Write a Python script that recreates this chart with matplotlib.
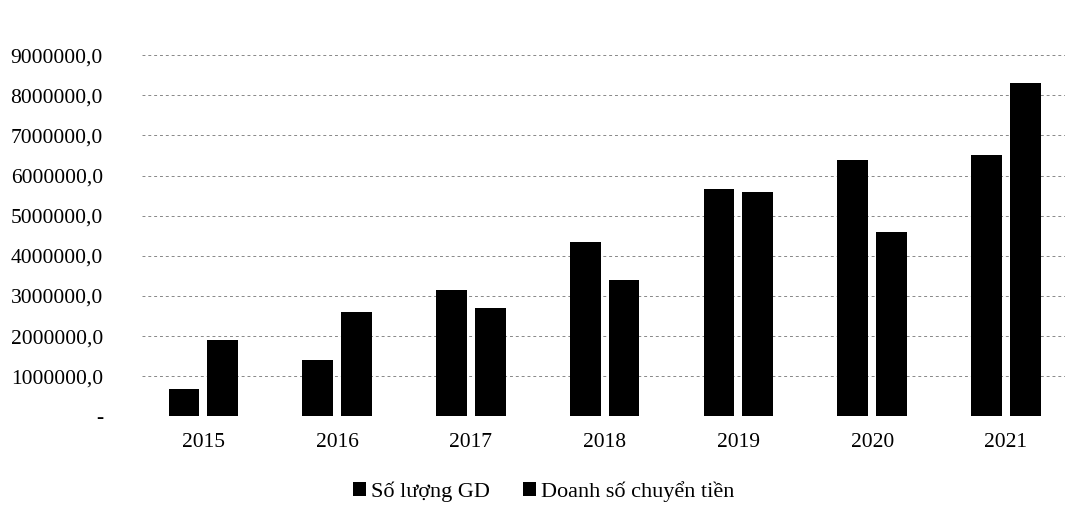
import numpy as np
import matplotlib
matplotlib.use("Agg")
import matplotlib.pyplot as plt
from matplotlib.ticker import FuncFormatter

plt.rcParams['font.family'] = ['Liberation Serif', 'DejaVu Serif']

# data
years = ['2015', '2016', '2017', '2018', '2019', '2020', '2021']
so_luong_gd = [680000, 1400000, 3150000, 4350000, 5670000, 6400000, 6500000]
doanh_so = [1900000, 2600000, 2700000, 3400000, 5600000, 4600000, 8300000]
y_ticks = np.arange(0, 10000000, 1000000)

fig = plt.figure(figsize=(10.91, 5.11), dpi=100)
ax = fig.add_axes([0.13, 0.185, 0.846, 0.77])

x = np.arange(len(years))
w = 0.23
gap = 0.06
ax.bar(x - (w + gap) / 2, so_luong_gd, width=w, color='black', label='Số lượng GD', zorder=3)
ax.bar(x + (w + gap) / 2, doanh_so, width=w, color='black', label='Doanh số chuyển tiền', zorder=3)

ax.set_ylim(0, 9800000)
ax.set_xlim(-0.46, len(years) - 0.56)
ax.set_yticks(y_ticks)


def fmt(v, pos):
    if v == 0:
        return '-'
    return f'{int(v)},0'


ax.yaxis.set_major_formatter(FuncFormatter(fmt))
ax.set_xticks(x)
ax.set_xticklabels(years)
ax.tick_params(axis='both', length=0, labelsize=15.5)
ax.tick_params(axis='y', pad=28)
ax.tick_params(axis='x', pad=12)

ax.grid(axis='y', color='#888888', linestyle=(0, (3, 3)), linewidth=0.7, zorder=0)
for s in ax.spines.values():
    s.set_visible(False)

ax.legend(loc='center', bbox_to_anchor=(0.435, -0.19), ncol=2, frameon=False,
          fontsize=16, handlelength=0.6, handleheight=0.6, handletextpad=0.2,
          columnspacing=1.5)

fig.savefig('out.png', dpi=100)
